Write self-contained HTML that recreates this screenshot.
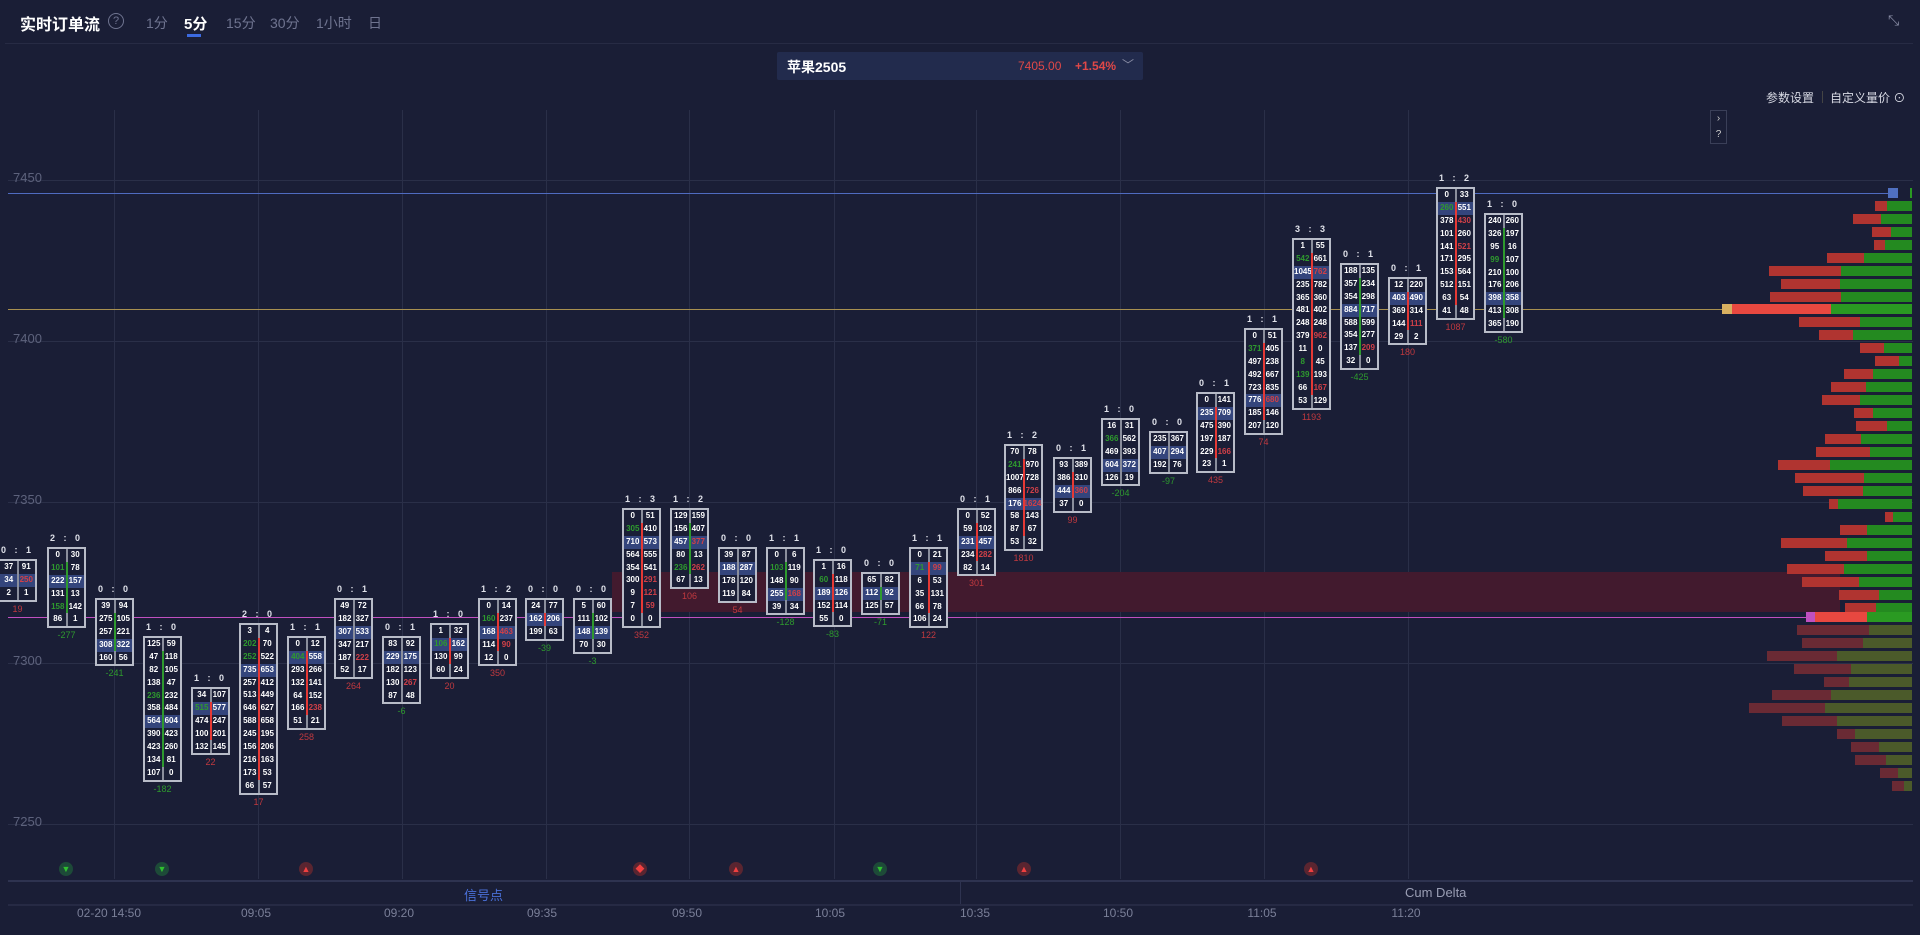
<!DOCTYPE html>
<html><head><meta charset="utf-8">
<style>
*{margin:0;padding:0;box-sizing:border-box}
body{width:1920px;height:935px;background:#1a1e36;font-family:"Liberation Sans","Noto Sans CJK SC",sans-serif;color:#fff;position:relative;overflow:hidden}
.a{position:absolute}
.hd{left:20px;top:11px;font-size:16px;font-weight:bold;color:#fff}
.tab{top:13px;font-size:14px;color:#6f7490}
.grid{position:absolute;background:#2a2f48}
.yl{position:absolute;left:13px;font-size:13px;color:#5d627c}
.tl{position:absolute;top:906px;font-size:12px;color:#7a7f98;transform:translateX(-50%)}
.k{position:absolute;width:39px}
.k .t{position:absolute;top:-14px;left:0;width:39px;text-align:center;font-size:9px;font-weight:bold;color:#e0e2ea;letter-spacing:3px}
.k .b{position:relative;border:2px solid #b8bcc8;background:#1a1e36}
.k .b:before{content:"";position:absolute;left:17px;top:0;bottom:0;width:2px;background:#8a8e9c}
.k .b.r:after,.k .b.g:after{content:"";position:absolute;left:17px;top:13px;bottom:13px;width:2px;background:#e53935}
.k .b.g:after{background:#2e9a2e}
.k p{display:flex;height:12.9px;line-height:12.9px;font-size:8px;font-weight:bold}
.k p i{font-style:normal;width:50%;text-align:center}
.k p.p{background:#34457c}
.k .d{text-align:center;font-size:9px;color:#c0393f;margin-top:2px}
.k .d.g{color:#2e9a2e}
i.G{color:#2e9a2e!important}i.R{color:#d04048!important}
.sig{position:absolute;top:862px;width:14px;height:14px;border-radius:50%;font-size:9px;text-align:center;line-height:14px}
.sr{background:#5a2530;color:#f04040}.sg{background:#1d4a38;color:#30c030}
</style></head><body>
<div class="a hd">实时订单流</div>
<div class="a" style="left:108px;top:13px;width:16px;height:16px;border:1px solid #6f7490;border-radius:50%;font-size:11px;color:#6f7490;text-align:center;line-height:14px">?</div>
<div class="a tab" style="left:146px">1分</div>
<div class="a tab" style="left:184px;color:#fff;font-weight:bold;font-size:15px">5分</div>
<div class="a" style="left:187px;top:34px;width:14px;height:3px;background:#3c6ae0"></div>
<div class="a tab" style="left:226px">15分</div>
<div class="a tab" style="left:270px">30分</div>
<div class="a tab" style="left:316px">1小时</div>
<div class="a tab" style="left:368px">日</div>
<div class="a" style="left:1888px;top:12px;font-size:14px;color:#8a8ea6">⤡</div>
<div class="a" style="left:5px;top:43px;width:1908px;height:1px;background:#272b44"></div>
<div class="a" style="left:777px;top:52px;width:366px;height:28px;background:#222b4d;border-radius:2px"></div>
<div class="a" style="left:787px;top:57px;font-size:14px;font-weight:bold">苹果2505</div>
<div class="a" style="left:1018px;top:59px;font-size:12px;color:#e04848">7405.00</div>
<div class="a" style="left:1075px;top:59px;font-size:12px;color:#e04848;font-weight:bold">+1.54%</div>
<div class="a" style="left:1122px;top:56px;font-size:12px;color:#8a8ea6">﹀</div>
<div class="a" style="left:1766px;top:89px;font-size:12px;color:#d8dae4">参数设置</div>
<div class="a" style="left:1822px;top:91px;width:1px;height:12px;background:#444"></div>
<div class="a" style="left:1830px;top:89px;font-size:12px;color:#d8dae4">自定义量价 ⊙</div>
<div class="a" style="left:1710px;top:110px;width:17px;height:34px;border:1px solid #3a3f58;font-size:10px;color:#ccc;text-align:center;line-height:16px">›<br>?</div>
<div class="grid" style="left:114px;top:110px;width:1px;height:769px"></div>
<div class="grid" style="left:258px;top:110px;width:1px;height:769px"></div>
<div class="grid" style="left:402px;top:110px;width:1px;height:769px"></div>
<div class="grid" style="left:546px;top:110px;width:1px;height:769px"></div>
<div class="grid" style="left:689px;top:110px;width:1px;height:769px"></div>
<div class="grid" style="left:834px;top:110px;width:1px;height:769px"></div>
<div class="grid" style="left:976px;top:110px;width:1px;height:769px"></div>
<div class="grid" style="left:1120px;top:110px;width:1px;height:769px"></div>
<div class="grid" style="left:1264px;top:110px;width:1px;height:769px"></div>
<div class="grid" style="left:1408px;top:110px;width:1px;height:769px"></div>
<div class="grid" style="left:8px;top:180px;width:1905px;height:1px"></div>
<div class="grid" style="left:8px;top:341px;width:1905px;height:1px"></div>
<div class="grid" style="left:8px;top:502px;width:1905px;height:1px"></div>
<div class="grid" style="left:8px;top:663px;width:1905px;height:1px"></div>
<div class="grid" style="left:8px;top:824px;width:1905px;height:1px"></div>
<div class="yl" style="top:170px">7450</div>
<div class="yl" style="top:331px">7400</div>
<div class="yl" style="top:492px">7350</div>
<div class="yl" style="top:653px">7300</div>
<div class="yl" style="top:814px">7250</div>
<div class="a" style="left:612px;top:572px;width:1228px;height:40px;background:#421a2e"></div>
<div class="a" style="left:8px;top:193px;width:1880px;height:1px;background:#4f6bc0"></div>
<div class="a" style="left:8px;top:309px;width:1715px;height:1px;background:#a89050"></div>
<div class="a" style="left:8px;top:617px;width:1800px;height:1px;background:#c050c0"></div>
<svg class="a" style="left:0;top:0" width="1920" height="935">
<g fill="#b03430">
<rect x="1875" y="201" width="12" height="10"/><rect x="1853" y="214" width="28" height="10"/><rect x="1872" y="227" width="19" height="10"/><rect x="1874" y="240" width="11" height="10"/><rect x="1827" y="253" width="37" height="10"/><rect x="1769" y="266" width="72" height="10"/><rect x="1781" y="279" width="59" height="10"/><rect x="1770" y="292" width="71" height="10"/>
<rect x="1799" y="317" width="61" height="10"/><rect x="1819" y="330" width="34" height="10"/><rect x="1860" y="343" width="24" height="10"/><rect x="1875" y="356" width="24" height="10"/><rect x="1844" y="369" width="29" height="10"/><rect x="1831" y="382" width="35" height="10"/><rect x="1822" y="395" width="38" height="10"/><rect x="1854" y="408" width="19" height="10"/><rect x="1856" y="421" width="31" height="10"/><rect x="1825" y="434" width="36" height="10"/><rect x="1816" y="447" width="54" height="10"/><rect x="1778" y="460" width="52" height="10"/><rect x="1795" y="473" width="69" height="10"/><rect x="1803" y="486" width="60" height="10"/><rect x="1829" y="499" width="9" height="10"/><rect x="1885" y="512" width="8" height="10"/><rect x="1840" y="525" width="27" height="10"/><rect x="1781" y="538" width="66" height="10"/><rect x="1825" y="551" width="42" height="10"/><rect x="1787" y="564" width="57" height="10"/><rect x="1802" y="577" width="57" height="10"/><rect x="1839" y="590" width="40" height="10"/><rect x="1845" y="603" width="31" height="10"/>
</g>
<g fill="#248a20">
<rect x="1887" y="201" width="25" height="10"/><rect x="1881" y="214" width="31" height="10"/><rect x="1891" y="227" width="21" height="10"/><rect x="1885" y="240" width="27" height="10"/><rect x="1864" y="253" width="48" height="10"/><rect x="1841" y="266" width="71" height="10"/><rect x="1840" y="279" width="72" height="10"/><rect x="1841" y="292" width="71" height="10"/>
<rect x="1860" y="317" width="52" height="10"/><rect x="1853" y="330" width="59" height="10"/><rect x="1884" y="343" width="28" height="10"/><rect x="1899" y="356" width="13" height="10"/><rect x="1873" y="369" width="39" height="10"/><rect x="1866" y="382" width="46" height="10"/><rect x="1860" y="395" width="52" height="10"/><rect x="1873" y="408" width="39" height="10"/><rect x="1887" y="421" width="25" height="10"/><rect x="1861" y="434" width="51" height="10"/><rect x="1870" y="447" width="42" height="10"/><rect x="1830" y="460" width="82" height="10"/><rect x="1864" y="473" width="48" height="10"/><rect x="1863" y="486" width="49" height="10"/><rect x="1838" y="499" width="74" height="10"/><rect x="1893" y="512" width="19" height="10"/><rect x="1867" y="525" width="45" height="10"/><rect x="1847" y="538" width="65" height="10"/><rect x="1867" y="551" width="45" height="10"/><rect x="1844" y="564" width="68" height="10"/><rect x="1859" y="577" width="53" height="10"/><rect x="1879" y="590" width="33" height="10"/><rect x="1876" y="603" width="36" height="10"/>
</g>
<rect x="1732" y="304" width="99" height="10" fill="#e84840"/><rect x="1831" y="304" width="81" height="10" fill="#2a9a22"/>
<rect x="1722" y="304" width="10" height="10" fill="#d8b060"/>
<rect x="1815" y="612" width="52" height="10" fill="#e84840"/><rect x="1867" y="612" width="45" height="10" fill="#2a9a22"/>
<rect x="1806" y="612" width="9" height="10" fill="#c050c0"/>
<rect x="1888" y="188" width="10" height="10" fill="#5070c0"/><rect x="1910" y="188" width="2" height="10" fill="#2a9a22"/>
<g fill="#6a2a34">
<rect x="1797" y="625" width="72" height="10"/><rect x="1802" y="638" width="61" height="10"/><rect x="1767" y="651" width="70" height="10"/><rect x="1794" y="664" width="57" height="10"/><rect x="1824" y="677" width="25" height="10"/><rect x="1772" y="690" width="59" height="10"/><rect x="1749" y="703" width="76" height="10"/><rect x="1782" y="716" width="55" height="10"/><rect x="1837" y="729" width="18" height="10"/><rect x="1851" y="742" width="28" height="10"/><rect x="1855" y="755" width="31" height="10"/><rect x="1880" y="768" width="18" height="10"/><rect x="1892" y="781" width="12" height="10"/>
</g>
<g fill="#4b5a2a">
<rect x="1869" y="625" width="43" height="10"/><rect x="1863" y="638" width="49" height="10"/><rect x="1837" y="651" width="75" height="10"/><rect x="1851" y="664" width="61" height="10"/><rect x="1849" y="677" width="63" height="10"/><rect x="1831" y="690" width="81" height="10"/><rect x="1825" y="703" width="87" height="10"/><rect x="1837" y="716" width="75" height="10"/><rect x="1855" y="729" width="57" height="10"/><rect x="1879" y="742" width="33" height="10"/><rect x="1886" y="755" width="26" height="10"/><rect x="1898" y="768" width="14" height="10"/><rect x="1904" y="781" width="8" height="10"/>
</g>
</svg>
<div class="k" style="left:-2px;top:559px"><div class="t">0 : 1</div><div class="b"><p><i>37</i><i>91</i></p><p class="p"><i>34</i><i class="R">250</i></p><p><i>2</i><i>1</i></p></div><div class="d">19</div></div>
<div class="k" style="left:47px;top:547px"><div class="t">2 : 0</div><div class="b g"><p><i>0</i><i>30</i></p><p><i class="G">101</i><i>78</i></p><p class="p"><i>222</i><i>157</i></p><p><i>131</i><i>13</i></p><p><i class="G">158</i><i>142</i></p><p><i>86</i><i>1</i></p></div><div class="d g">-277</div></div>
<div class="k" style="left:95px;top:598px"><div class="t">0 : 0</div><div class="b g"><p><i>39</i><i>94</i></p><p><i>275</i><i>105</i></p><p><i>257</i><i>221</i></p><p class="p"><i>308</i><i>322</i></p><p><i>160</i><i>56</i></p></div><div class="d g">-241</div></div>
<div class="k" style="left:143px;top:636px"><div class="t">1 : 0</div><div class="b g"><p><i>125</i><i>59</i></p><p><i>47</i><i>118</i></p><p><i>82</i><i>105</i></p><p><i>138</i><i>47</i></p><p><i class="G">236</i><i>232</i></p><p><i>358</i><i>484</i></p><p class="p"><i>564</i><i>604</i></p><p><i>390</i><i>423</i></p><p><i>423</i><i>260</i></p><p><i>134</i><i>81</i></p><p><i>107</i><i>0</i></p></div><div class="d g">-182</div></div>
<div class="k" style="left:191px;top:687px"><div class="t">1 : 0</div><div class="b r"><p><i>34</i><i>107</i></p><p class="p"><i class="G">515</i><i>577</i></p><p><i>474</i><i>247</i></p><p><i>100</i><i>201</i></p><p><i>132</i><i>145</i></p></div><div class="d">22</div></div>
<div class="k" style="left:239px;top:623px"><div class="t">2 : 0</div><div class="b r"><p><i>3</i><i>4</i></p><p><i class="G">202</i><i>70</i></p><p><i class="G">252</i><i>522</i></p><p class="p"><i>735</i><i>653</i></p><p><i>257</i><i>412</i></p><p><i>513</i><i>449</i></p><p><i>646</i><i>627</i></p><p><i>588</i><i>658</i></p><p><i>245</i><i>195</i></p><p><i>156</i><i>206</i></p><p><i>216</i><i>163</i></p><p><i>173</i><i>53</i></p><p><i>66</i><i>57</i></p></div><div class="d">17</div></div>
<div class="k" style="left:287px;top:636px"><div class="t">1 : 1</div><div class="b r"><p><i>0</i><i>12</i></p><p class="p"><i class="G">404</i><i>558</i></p><p><i>293</i><i>266</i></p><p><i>132</i><i>141</i></p><p><i>64</i><i>152</i></p><p><i>166</i><i class="R">238</i></p><p><i>51</i><i>21</i></p></div><div class="d">258</div></div>
<div class="k" style="left:334px;top:598px"><div class="t">0 : 1</div><div class="b"><p><i>49</i><i>72</i></p><p><i>182</i><i>327</i></p><p class="p"><i>307</i><i>533</i></p><p><i>347</i><i>217</i></p><p><i>187</i><i class="R">222</i></p><p><i>52</i><i>17</i></p></div><div class="d">264</div></div>
<div class="k" style="left:382px;top:636px"><div class="t">0 : 1</div><div class="b"><p><i>83</i><i>92</i></p><p class="p"><i>229</i><i>175</i></p><p><i>182</i><i>123</i></p><p><i>130</i><i class="R">267</i></p><p><i>87</i><i>48</i></p></div><div class="d g">-6</div></div>
<div class="k" style="left:430px;top:623px"><div class="t">1 : 0</div><div class="b r"><p><i>1</i><i>32</i></p><p class="p"><i class="G">106</i><i>162</i></p><p><i>130</i><i>99</i></p><p><i>60</i><i>24</i></p></div><div class="d">20</div></div>
<div class="k" style="left:478px;top:598px"><div class="t">1 : 2</div><div class="b r"><p><i>0</i><i>14</i></p><p><i class="G">160</i><i>237</i></p><p class="p"><i>168</i><i class="R">463</i></p><p><i>114</i><i class="R">90</i></p><p><i>12</i><i>0</i></p></div><div class="d">350</div></div>
<div class="k" style="left:525px;top:598px"><div class="t">0 : 0</div><div class="b r"><p><i>24</i><i>77</i></p><p class="p"><i>162</i><i>206</i></p><p><i>199</i><i>63</i></p></div><div class="d g">-39</div></div>
<div class="k" style="left:573px;top:598px"><div class="t">0 : 0</div><div class="b g"><p><i>5</i><i>60</i></p><p><i>111</i><i>102</i></p><p class="p"><i>148</i><i>139</i></p><p><i>70</i><i>30</i></p></div><div class="d g">-3</div></div>
<div class="k" style="left:622px;top:508px"><div class="t">1 : 3</div><div class="b r"><p><i>0</i><i>51</i></p><p><i class="G">305</i><i>410</i></p><p class="p"><i>710</i><i>573</i></p><p><i>564</i><i>555</i></p><p><i>354</i><i>541</i></p><p><i>300</i><i class="R">291</i></p><p><i>9</i><i class="R">121</i></p><p><i>7</i><i class="R">59</i></p><p><i>0</i><i>0</i></p></div><div class="d">352</div></div>
<div class="k" style="left:670px;top:508px"><div class="t">1 : 2</div><div class="b g"><p><i>129</i><i>159</i></p><p><i>156</i><i>407</i></p><p class="p"><i>457</i><i class="R">377</i></p><p><i>80</i><i>13</i></p><p><i class="G">236</i><i class="R">262</i></p><p><i>67</i><i>13</i></p></div><div class="d">106</div></div>
<div class="k" style="left:718px;top:547px"><div class="t">0 : 0</div><div class="b"><p><i>39</i><i>87</i></p><p class="p"><i>188</i><i>287</i></p><p><i>178</i><i>120</i></p><p><i>119</i><i>84</i></p></div><div class="d">54</div></div>
<div class="k" style="left:766px;top:547px"><div class="t">1 : 1</div><div class="b g"><p><i>0</i><i>6</i></p><p><i class="G">103</i><i>119</i></p><p><i>148</i><i>90</i></p><p class="p"><i>255</i><i class="R">168</i></p><p><i>39</i><i>34</i></p></div><div class="d g">-128</div></div>
<div class="k" style="left:813px;top:559px"><div class="t">1 : 0</div><div class="b r"><p><i>1</i><i>16</i></p><p><i class="G">60</i><i>118</i></p><p class="p"><i>189</i><i>126</i></p><p><i>152</i><i>114</i></p><p><i>55</i><i>0</i></p></div><div class="d g">-83</div></div>
<div class="k" style="left:861px;top:572px"><div class="t">0 : 0</div><div class="b g"><p><i>65</i><i>82</i></p><p class="p"><i>112</i><i>92</i></p><p><i>125</i><i>57</i></p></div><div class="d g">-71</div></div>
<div class="k" style="left:909px;top:547px"><div class="t">1 : 1</div><div class="b r"><p><i>0</i><i>21</i></p><p class="p"><i class="G">71</i><i class="R">99</i></p><p><i>6</i><i>53</i></p><p><i>35</i><i>131</i></p><p><i>66</i><i>78</i></p><p><i>106</i><i>24</i></p></div><div class="d">122</div></div>
<div class="k" style="left:957px;top:508px"><div class="t">0 : 1</div><div class="b r"><p><i>0</i><i>52</i></p><p><i>59</i><i>102</i></p><p class="p"><i>231</i><i>457</i></p><p><i>234</i><i class="R">282</i></p><p><i>82</i><i>14</i></p></div><div class="d">301</div></div>
<div class="k" style="left:1004px;top:444px"><div class="t">1 : 2</div><div class="b r"><p><i>70</i><i>78</i></p><p><i class="G">241</i><i>970</i></p><p><i>1007</i><i>728</i></p><p><i>866</i><i class="R">726</i></p><p class="p"><i>176</i><i class="R">1624</i></p><p><i>58</i><i>143</i></p><p><i>87</i><i>67</i></p><p><i>53</i><i>32</i></p></div><div class="d">1810</div></div>
<div class="k" style="left:1053px;top:457px"><div class="t">0 : 1</div><div class="b r"><p><i>93</i><i>389</i></p><p><i>386</i><i>310</i></p><p class="p"><i>444</i><i class="R">360</i></p><p><i>37</i><i>0</i></p></div><div class="d">99</div></div>
<div class="k" style="left:1101px;top:418px"><div class="t">1 : 0</div><div class="b"><p><i>16</i><i>31</i></p><p><i class="G">366</i><i>562</i></p><p><i>469</i><i>393</i></p><p class="p"><i>604</i><i>372</i></p><p><i>126</i><i>19</i></p></div><div class="d g">-204</div></div>
<div class="k" style="left:1149px;top:431px"><div class="t">0 : 0</div><div class="b"><p><i>235</i><i>367</i></p><p class="p"><i>407</i><i>294</i></p><p><i>192</i><i>76</i></p></div><div class="d g">-97</div></div>
<div class="k" style="left:1196px;top:392px"><div class="t">0 : 1</div><div class="b r"><p><i>0</i><i>141</i></p><p class="p"><i>235</i><i>709</i></p><p><i>475</i><i>390</i></p><p><i>197</i><i>187</i></p><p><i>229</i><i class="R">166</i></p><p><i>23</i><i>1</i></p></div><div class="d">435</div></div>
<div class="k" style="left:1244px;top:328px"><div class="t">1 : 1</div><div class="b r"><p><i>0</i><i>51</i></p><p><i class="G">371</i><i>405</i></p><p><i>497</i><i>238</i></p><p><i>492</i><i>667</i></p><p><i>723</i><i>835</i></p><p class="p"><i>776</i><i class="R">680</i></p><p><i>185</i><i>146</i></p><p><i>207</i><i>120</i></p></div><div class="d">74</div></div>
<div class="k" style="left:1292px;top:238px"><div class="t">3 : 3</div><div class="b r"><p><i>1</i><i>55</i></p><p><i class="G">542</i><i>661</i></p><p class="p"><i>1045</i><i class="R">762</i></p><p><i>235</i><i>782</i></p><p><i>365</i><i>360</i></p><p><i>481</i><i>402</i></p><p><i>248</i><i>248</i></p><p><i>379</i><i class="R">962</i></p><p><i>11</i><i>0</i></p><p><i class="G">8</i><i>45</i></p><p><i class="G">139</i><i>193</i></p><p><i>66</i><i class="R">167</i></p><p><i>53</i><i>129</i></p></div><div class="d">1193</div></div>
<div class="k" style="left:1340px;top:263px"><div class="t">0 : 1</div><div class="b g"><p><i>188</i><i>135</i></p><p><i>357</i><i>234</i></p><p><i>354</i><i>298</i></p><p class="p"><i>884</i><i>717</i></p><p><i>588</i><i>599</i></p><p><i>354</i><i>277</i></p><p><i>137</i><i class="R">209</i></p><p><i>32</i><i>0</i></p></div><div class="d g">-425</div></div>
<div class="k" style="left:1388px;top:277px"><div class="t">0 : 1</div><div class="b r"><p><i>12</i><i>220</i></p><p class="p"><i>403</i><i>490</i></p><p><i>369</i><i>314</i></p><p><i>144</i><i class="R">111</i></p><p><i>29</i><i>2</i></p></div><div class="d">180</div></div>
<div class="k" style="left:1436px;top:187px"><div class="t">1 : 2</div><div class="b r"><p><i>0</i><i>33</i></p><p class="p"><i class="G">260</i><i>551</i></p><p><i>378</i><i class="R">430</i></p><p><i>101</i><i>260</i></p><p><i>141</i><i class="R">521</i></p><p><i>171</i><i>295</i></p><p><i>153</i><i>564</i></p><p><i>512</i><i>151</i></p><p><i>63</i><i>54</i></p><p><i>41</i><i>48</i></p></div><div class="d">1087</div></div>
<div class="k" style="left:1484px;top:213px"><div class="t">1 : 0</div><div class="b g"><p><i>240</i><i>260</i></p><p><i>326</i><i>197</i></p><p><i>95</i><i>16</i></p><p><i class="G">99</i><i>107</i></p><p><i>210</i><i>100</i></p><p><i>176</i><i>206</i></p><p class="p"><i>398</i><i>358</i></p><p><i>413</i><i>308</i></p><p><i>365</i><i>190</i></p></div><div class="d g">-580</div></div>
<div class="sig sg" style="left:59px">▼</div>
<div class="sig sg" style="left:155px">▼</div>
<div class="sig sr" style="left:299px">▲</div>
<div class="sig sr" style="left:633px">◆</div>
<div class="sig sr" style="left:729px">▲</div>
<div class="sig sg" style="left:873px">▼</div>
<div class="sig sr" style="left:1017px">▲</div>
<div class="sig sr" style="left:1304px">▲</div>
<div class="a" style="left:8px;top:880px;width:1905px;height:2px;background:#2e3350"></div>
<div class="a" style="left:960px;top:882px;width:1px;height:22px;background:#2e3350"></div>
<div class="a" style="left:464px;top:885px;font-size:13px;color:#4a70d8">信号点</div>
<div class="a" style="left:1405px;top:885px;font-size:13px;color:#9a9eb4">Cum Delta</div>
<div class="a" style="left:8px;top:904px;width:1905px;height:2px;background:#262a44"></div>
<div class="tl" style="left:109px">02-20 14:50</div>
<div class="tl" style="left:256px">09:05</div>
<div class="tl" style="left:399px">09:20</div>
<div class="tl" style="left:542px">09:35</div>
<div class="tl" style="left:687px">09:50</div>
<div class="tl" style="left:830px">10:05</div>
<div class="tl" style="left:975px">10:35</div>
<div class="tl" style="left:1118px">10:50</div>
<div class="tl" style="left:1262px">11:05</div>
<div class="tl" style="left:1406px">11:20</div>
</body></html>
